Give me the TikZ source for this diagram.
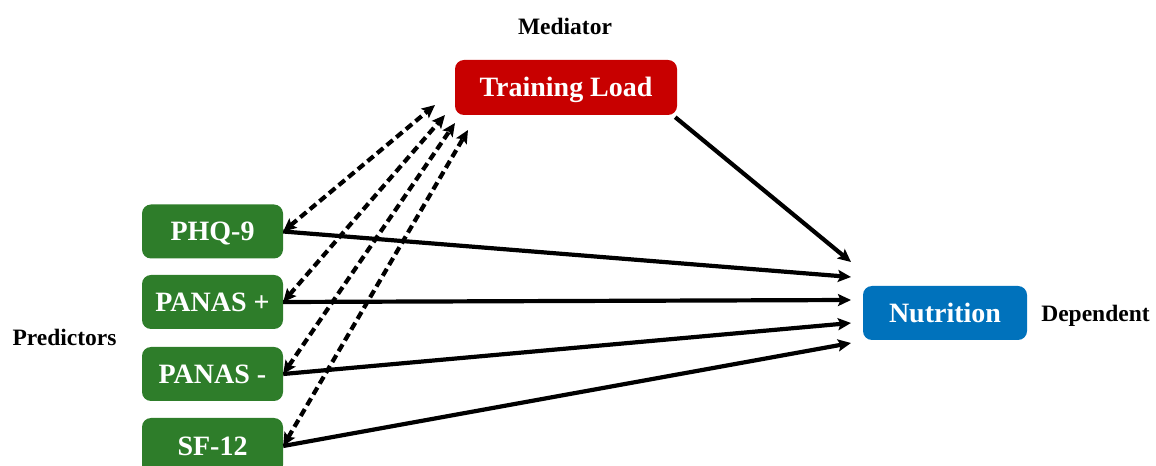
\documentclass[tikz,border=0pt]{standalone}
\usepackage{fontspec}
\setmainfont{Liberation Serif}
\usetikzlibrary{arrows.meta}

\definecolor{predgreen}{RGB}{46,125,42}
\definecolor{medred}{RGB}{200,0,0}
\definecolor{depblue}{RGB}{0,114,188}

\tikzset{pathhead/.tip={Stealth[length=13bp,width=12bp,inset=2.5bp]}}

\begin{document}
\begin{tikzpicture}[x=1bp,y=-1bp,
  box/.style={rounded corners=9bp, text=white, inner sep=0pt,
    font=\fontsize{28bp}{32bp}\bfseries\selectfont,
    text height=18.5bp, text depth=0bp},
  predbox/.style={box, fill=predgreen, minimum width=141bp, minimum height=54bp},
  role/.style={font=\fontsize{23.5bp}{28bp}\bfseries\selectfont, inner sep=0pt, anchor=base},
  direct/.style={line width=4.2bp, -{pathhead}},
  indirect/.style={line width=4.2bp, dash pattern=on 8bp off 4.5bp, {pathhead}-{pathhead}},
]
\useasboundingbox (0,0) rectangle (1156,466);

% boxes
\node[box, fill=medred, minimum width=222bp, minimum height=55bp] (tl) at (566,87.5) {Training Load};
\node[box, fill=depblue, minimum width=164bp, minimum height=54bp] (nut) at (945,313) {Nutrition};
\node[predbox] (phq)  at (212.5,231.5) {PHQ-9};
\node[predbox] (pp)   at (212.5,302)   {PANAS +};
\node[predbox] (pm)   at (212.5,374)   {PANAS -};
\node[predbox, minimum height=56bp] (sf) at (212.5,446) {SF-12};

% role labels
\node[role] (medlbl) at (565,35)    {Mediator};
\node[role] (deplbl) at (1095.5,322) {Dependent};
\node[role] (prelbl) at (64.5,346)  {Predictors};

% arrow ends next to the mediator and the outcome
\coordinate (t1) at (435,105);
\coordinate (t2) at (445,115);
\coordinate (t3) at (455,123);
\coordinate (t4) at (468,130);
\coordinate (n0) at (851,262);
\coordinate (n1) at (851,277);
\coordinate (n2) at (851,300);
\coordinate (n3) at (851,323);
\coordinate (n4) at (851,343);

% indirect paths via the mediator
\draw[indirect] (phq.east) -- (t1);
\draw[indirect] (pp.east)  -- (t2);
\draw[indirect] (pm.east)  -- (t3);
\draw[indirect] (sf.east)  -- (t4);

% direct paths to the outcome
\draw[direct] ([xshift=-2bp,yshift=-2bp]tl.south east) -- (n0);
\draw[direct] (phq.east) -- (n1);
\draw[direct] (pp.east)  -- (n2);
\draw[direct] (pm.east)  -- (n3);
\draw[direct] (sf.east)  -- (n4);
\end{tikzpicture}
\end{document}
